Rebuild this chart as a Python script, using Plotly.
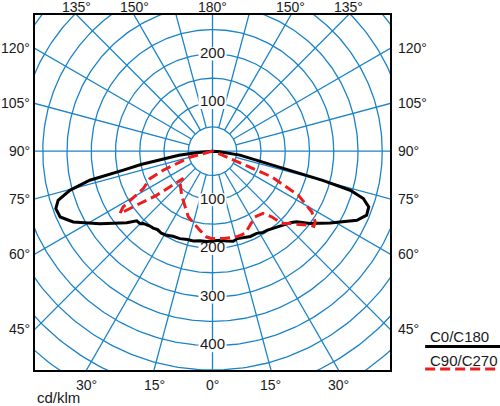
import numpy as np
import plotly.graph_objects as go

# luminous intensity in cd/klm, gamma measured from nadir (0 = straight down)
c0_gamma = [0, 4.8, 9, 13, 16, 19.6, 24, 28.3, 32, 35, 38.3, 42, 45.8, 48, 50, 53.5,
            58.7, 64.5, 67.5, 70.4, 72.6, 74.2, 75.2, 76, 77, 78.1, 81.8, 85, 90, 180]
c0_cd = [184, 184, 187, 190, 187, 189, 192, 192, 197, 198, 202, 206, 213, 219, 226, 250,
         284, 330, 344, 342, 326, 295, 235, 161, 129, 90, 57, 15, 0, 0]

c180_gamma = [0, 3.7, 8, 12.1, 16, 20.5, 25, 28.6, 32, 35, 37.7, 40, 43.8, 45, 47.5, 50.2,
              57.3, 63.1, 66.7, 69.9, 72.4, 74.7, 76.7, 78, 79.5, 81, 83, 85, 90, 180]
c180_cd = [184, 186, 186, 189, 189, 192, 193, 197, 199, 197, 200, 201, 206, 211, 212, 230,
           276, 322, 342, 344, 334, 305, 260, 188, 150, 110, 70, 30, 0, 0]

c90_gamma = [0, 8.2, 15.8, 21.6, 26.9, 32.9, 39.2, 42.1, 43.8, 47, 50, 52.8, 53.5, 55.5,
             58.6, 62.9, 66.6, 67.5, 68.6, 90, 180]
c90_cd = [180, 181, 183, 182, 171, 161, 165, 182, 206, 218, 235, 252, 260, 257,
          240, 199, 133, 58, 13, 0, 0]

c270_gamma = [0, 3.9, 9, 20.3, 35, 46.7, 47, 51.8, 54.9, 56.1, 58.1, 61.7, 66.4, 69, 75, 90, 180]
c270_cd = [180, 177, 165, 144, 111, 92, 82, 146, 200, 230, 217, 162, 141, 108, 48, 0, 0]

ring_values = list(range(50, 651, 50))
ring_labels_up = [100, 200]
ring_labels_down = [100, 200, 300, 400]
side_ticks = [45, 60, 75, 90, 105, 120]
top_ticks = [135, 150, 180]
bottom_ticks = [0, 15, 30]

X_MIN, X_MAX = -366, 366
Y_MIN, Y_MAX = -450, 280
GRID = "#1b84c8"
RED = "#ee1c1c"
FONT = "Liberation Sans, Arial, sans-serif"
TXT = "#1a1a1a"


def to_xy(gamma, cd, side):
    g = np.radians(np.asarray(gamma, dtype=float))
    r = np.asarray(cd, dtype=float)
    return side * r * np.sin(g), -r * np.cos(g)


def plane_path(right_gamma, right_cd, left_gamma, left_cd):
    lx, ly = to_xy(left_gamma[::-1], left_cd[::-1], -1)
    rx, ry = to_xy(right_gamma, right_cd, 1)
    return np.concatenate([lx, rx]), np.concatenate([ly, ry])


fig = go.Figure()

# grid circles
t = np.linspace(0, 2 * np.pi, 361)
gx, gy = [], []
for r in ring_values:
    gx += list(r * np.cos(t)) + [None]
    gy += list(r * np.sin(t)) + [None]
# spokes every 15 degrees, only the axes cross the small centre circle
for a in range(0, 360, 15):
    r0 = 0 if a % 90 == 0 else 50
    ar = np.radians(a)
    gx += [r0 * np.sin(ar), 800 * np.sin(ar), None]
    gy += [r0 * np.cos(ar), 800 * np.cos(ar), None]
fig.add_trace(go.Scatter(x=gx, y=gy, mode="lines", hoverinfo="skip",
                         line=dict(color=GRID, width=1.3), showlegend=False))

# ring values, on a white strip that cuts the grid but sits under the curves
ring_y = ring_labels_up + [-v for v in ring_labels_down]
ring_txt = [str(v) for v in ring_labels_up + ring_labels_down]
bx, by = [], []
for v in ring_y:
    bx += [-29, 29, None]
    by += [v, v, None]
fig.add_trace(go.Scatter(x=bx, y=by, mode="lines", hoverinfo="skip",
                         line=dict(color="white", width=13), showlegend=False))
fig.add_trace(go.Scatter(x=[0] * len(ring_y), y=ring_y, mode="text", text=ring_txt,
                         textposition="middle center", hoverinfo="skip",
                         textfont=dict(size=15, color=TXT, family=FONT),
                         showlegend=False))

x0, y0 = plane_path(c0_gamma, c0_cd, c180_gamma, c180_cd)
fig.add_trace(go.Scatter(x=x0, y=y0, mode="lines", name="C0/C180",
                         line=dict(color="black", width=3), showlegend=False))
x9, y9 = plane_path(c90_gamma, c90_cd, c270_gamma, c270_cd)
fig.add_trace(go.Scatter(x=x9, y=y9, mode="lines", name="C90/C270",
                         line=dict(color=RED, width=3, dash="10px,5px"),
                         showlegend=False))

ann = []
lab = dict(showarrow=False, font=dict(size=14, color=TXT, family=FONT))
for g in side_ticks:
    yy = -X_MAX / np.tan(np.radians(g))
    ann.append(dict(xref="paper", yref="y", x=0, y=yy, text=f"{g}°",
                    xanchor="right", yanchor="middle", xshift=-3, **lab))
    ann.append(dict(xref="paper", yref="y", x=1, y=yy, text=f"{g}°",
                    xanchor="left", yanchor="middle", xshift=6, **lab))
for g in top_ticks:
    xx = Y_MAX * np.tan(np.radians(180 - g))
    for s in ([1] if g == 180 else [-1, 1]):
        ann.append(dict(xref="x", yref="paper", x=s * xx, y=1, text=f"{g}°",
                        xanchor="center", yanchor="bottom", yshift=-2, **lab))
for g in bottom_ticks:
    xx = -Y_MIN * np.tan(np.radians(g))
    for s in ([1] if g == 0 else [-1, 1]):
        ann.append(dict(xref="x", yref="paper", x=s * xx, y=0, text=f"{g}°",
                        xanchor="center", yanchor="top", yshift=-5, **lab))

big = dict(showarrow=False, font=dict(size=15, color=TXT, family=FONT))
ann.append(dict(xref="paper", yref="paper", x=0, y=0, text="cd/klm",
                xanchor="left", yanchor="top", yshift=-17, **big))

# legend drawn by hand
ann.append(dict(xref="paper", yref="paper", x=1.107, y=0.093, text="C0/C180",
                xanchor="left", yanchor="middle", **big))
ann.append(dict(xref="paper", yref="paper", x=1.107, y=0.028, text="C90/C270",
                xanchor="left", yanchor="middle", **big))
shapes = [
    dict(type="line", xref="paper", yref="paper", x0=1.099, x1=1.32, y0=0.066, y1=0.066,
         line=dict(color="black", width=3)),
    dict(type="line", xref="paper", yref="paper", x0=1.099, x1=1.32, y0=0.003, y1=0.003,
         line=dict(color=RED, width=3, dash="10px,5px")),
]

axis = dict(showgrid=False, zeroline=False, showticklabels=False, ticks="",
            showline=True, mirror=True, linecolor="black", linewidth=1.5)
fig.update_xaxes(range=[X_MIN, X_MAX], **axis)
fig.update_yaxes(range=[Y_MIN, Y_MAX], **axis)
fig.update_layout(width=500, height=406, margin=dict(l=35, r=110, t=15, b=36),
                  plot_bgcolor="white", paper_bgcolor="white",
                  annotations=ann, shapes=shapes, font=dict(family=FONT))

# the page's default body margin would push the figure 8px down and right
fig.write_html("out.html", config={"displayModeBar": False},
               post_script="document.body.style.margin='0px';"
                           "document.body.style.overflow='hidden';")
